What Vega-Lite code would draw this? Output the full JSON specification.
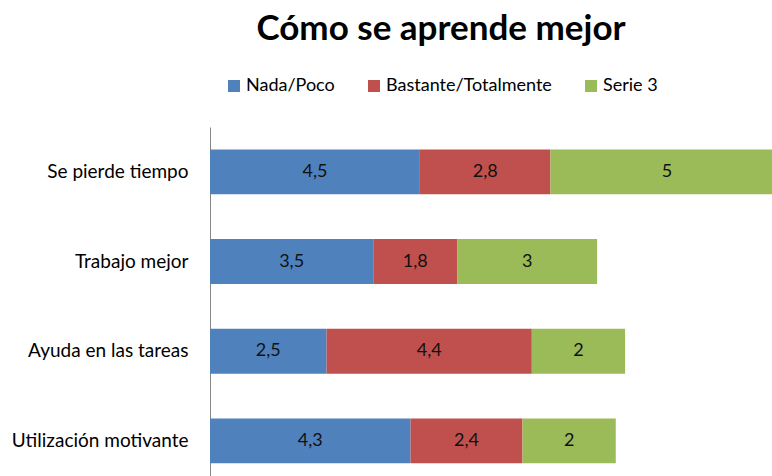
{
  "$schema": "https://vega.github.io/schema/vega-lite/v6.json",
  "autosize": {"type": "none"},
  "width": 562,
  "height": 349,
  "padding": {"left": 210, "top": 127, "right": 0, "bottom": 0},
  "background": "white",
  "title": {
    "text": "Cómo se aprende mejor",
    "font": "Lato",
    "fontSize": 35,
    "fontWeight": "bold",
    "color": "#000000",
    "anchor": "middle",
    "frame": "group",
    "dx": -50,
    "offset": 30
  },
  "data": {
    "values": [
      {"categoria": "Se pierde tiempo", "serie": "Nada/Poco", "valor": 4.5},
      {"categoria": "Se pierde tiempo", "serie": "Bastante/Totalmente", "valor": 2.8},
      {"categoria": "Se pierde tiempo", "serie": "Serie 3", "valor": 5},
      {"categoria": "Trabajo mejor", "serie": "Nada/Poco", "valor": 3.5},
      {"categoria": "Trabajo mejor", "serie": "Bastante/Totalmente", "valor": 1.8},
      {"categoria": "Trabajo mejor", "serie": "Serie 3", "valor": 3},
      {"categoria": "Ayuda en las tareas", "serie": "Nada/Poco", "valor": 2.5},
      {"categoria": "Ayuda en las tareas", "serie": "Bastante/Totalmente", "valor": 4.4},
      {"categoria": "Ayuda en las tareas", "serie": "Serie 3", "valor": 2},
      {"categoria": "Utilización motivante", "serie": "Nada/Poco", "valor": 4.3},
      {"categoria": "Utilización motivante", "serie": "Bastante/Totalmente", "valor": 2.4},
      {"categoria": "Utilización motivante", "serie": "Serie 3", "valor": 2}
    ]
  },
  "transform": [
    {"calculate": "indexof(['Nada/Poco','Bastante/Totalmente','Serie 3'], datum.serie)", "as": "orden"},
    {"stack": "valor", "groupby": ["categoria"], "sort": [{"field": "orden", "order": "ascending"}], "as": ["v0", "v1"]},
    {"calculate": "(datum.v0 + datum.v1) / 2", "as": "mid"}
  ],
  "encoding": {
    "y": {
      "field": "categoria",
      "type": "nominal",
      "sort": null,
      "scale": {"paddingInner": 0.5, "paddingOuter": 0.1955, "align": 0.639},
      "axis": {
        "title": null,
        "ticks": false,
        "grid": false,
        "domain": true,
        "domainColor": "#868686",
        "domainWidth": 1,
        "labelFont": "Lato",
        "labelFontSize": 19,
        "labelColor": "#000000",
        "labelPadding": 22,
        "labelLimit": 300
      }
    }
  },
  "layer": [
    {
      "mark": {"type": "bar", "clip": true},
      "encoding": {
        "x": {"field": "v0", "type": "quantitative", "scale": {"domain": [0, 12.05], "nice": false, "zero": true}, "axis": null},
        "x2": {"field": "v1"},
        "color": {
          "field": "serie",
          "type": "nominal",
          "scale": {
            "domain": ["Nada/Poco", "Bastante/Totalmente", "Serie 3"],
            "range": ["#4F81BD", "#C0504D", "#9BBB59"]
          },
          "legend": {
            "title": null,
            "orient": "none",
            "direction": "horizontal",
            "legendX": 15,
            "legendY": -50,
            "padding": 0,
            "symbolType": "square",
            "symbolSize": 144,
            "symbolStrokeWidth": 0,
            "symbolOpacity": 1,
            "labelFont": "Lato",
            "labelFontSize": 18,
            "labelColor": "#000000",
            "labelOffset": 3,
            "columnPadding": 30,
            "labelLimit": 300
          }
        }
      }
    },
    {
      "mark": {"type": "text", "font": "Lato", "fontSize": 18, "color": "#111111", "clip": true},
      "encoding": {
        "x": {"field": "mid", "type": "quantitative"},
        "text": {"field": "valor", "type": "quantitative", "format": ".2~r"}
      }
    }
  ],
  "config": {
    "view": {"stroke": null},
    "locale": {
      "number": {"decimal": ",", "thousands": ".", "grouping": [3], "currency": ["", " €"]}
    }
  }
}
